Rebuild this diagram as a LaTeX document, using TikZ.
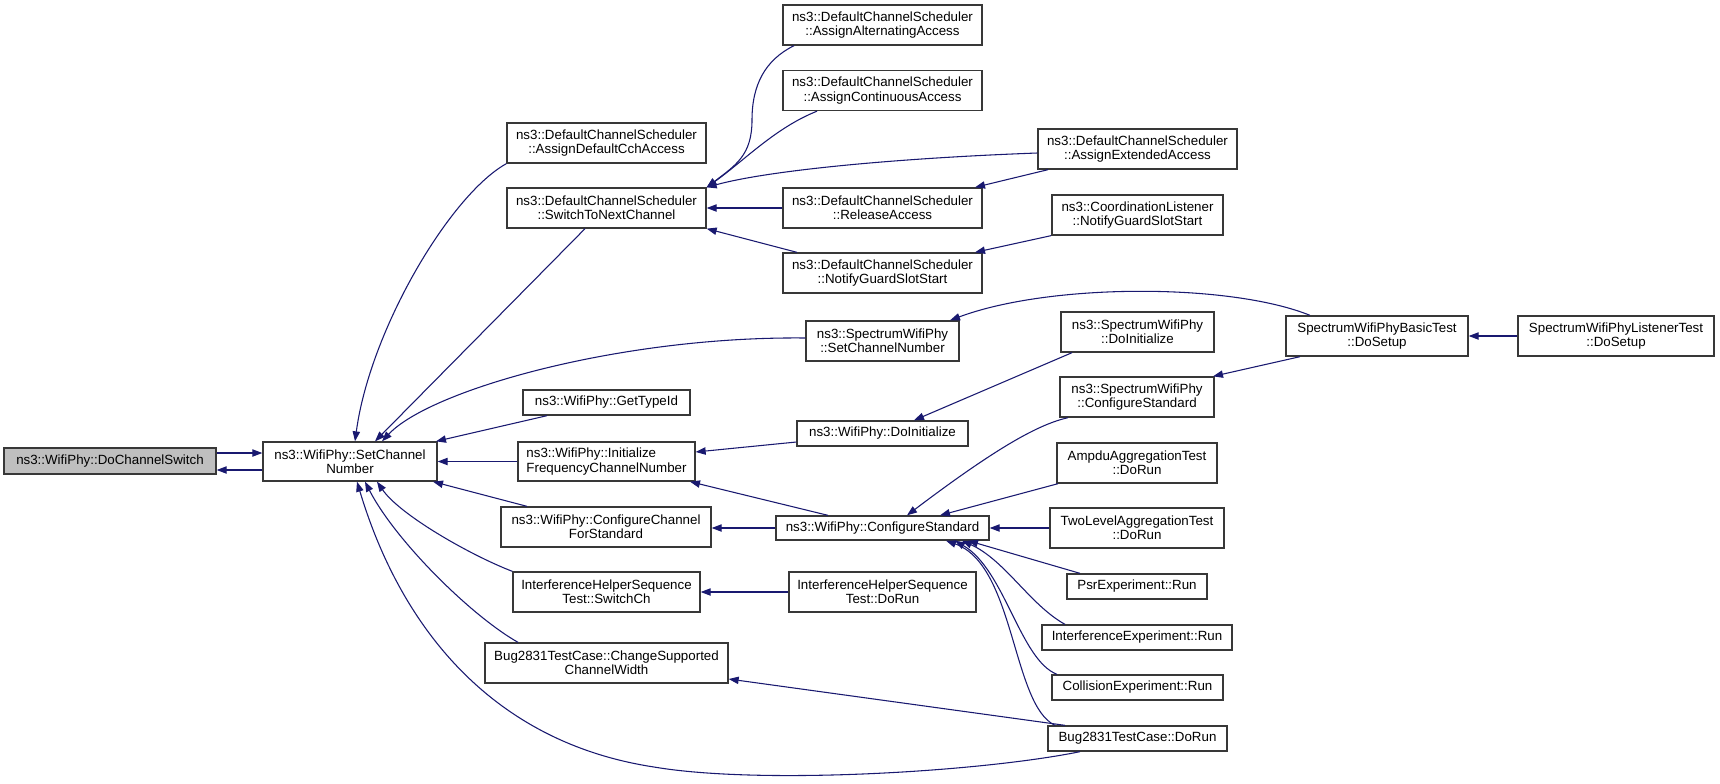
\documentclass[tikz,border=0pt]{standalone}
\usepackage{fontspec}
\setmainfont{Liberation Sans}
\usetikzlibrary{arrows.meta}
\definecolor{edgec}{HTML}{191970}
\definecolor{boxc}{HTML}{383838}
\definecolor{hl}{HTML}{BFBFBF}
\begin{document}
\begin{tikzpicture}[x=0.75pt,y=-0.75pt,
  box/.style={draw=boxc, line width=1pt, fill=white, inner sep=0pt, align=center, font=\fontsize{10}{10.6}\selectfont},
  sz/.style 2 args={minimum width=#1*0.75pt, minimum height=#2*0.75pt},
  edge/.style={draw=edgec, line width=0.8pt, -{Triangle[length=7.5pt,width=5.5pt]}}]
\fill[white] (0,0) rectangle (1720,783);
\useasboundingbox (0,0) rectangle (1720,783);
% nodes
\node[box,sz={212}{26},fill=hl] (dcs) at (110,461) {ns3::WifiPhy::DoChannelSwitch};
\node[box,sz={174}{39}] (scn) at (350,461.5) {ns3::WifiPhy::SetChannel\\Number};
\node[box,sz={199}{40}] (adca) at (606.5,143) {ns3::DefaultChannelScheduler\\::AssignDefaultCchAccess};
\node[box,sz={199}{40}] (stnc) at (606.5,208) {ns3::DefaultChannelScheduler\\::SwitchToNextChannel};
\node[box,sz={199}{40}] (aaa) at (882.5,25) {ns3::DefaultChannelScheduler\\::AssignAlternatingAccess};
\node[box,sz={199}{40}] (aca) at (882.5,90.5) {ns3::DefaultChannelScheduler\\::AssignContinuousAccess};
\node[box,sz={199}{40}] (ra) at (882.5,208) {ns3::DefaultChannelScheduler\\::ReleaseAccess};
\node[box,sz={199}{40}] (ngss) at (882.5,273) {ns3::DefaultChannelScheduler\\::NotifyGuardSlotStart};
\node[box,sz={199}{40}] (aea) at (1137.5,149) {ns3::DefaultChannelScheduler\\::AssignExtendedAccess};
\node[box,sz={171}{40}] (clngss) at (1137.5,215) {ns3::CoordinationListener\\::NotifyGuardSlotStart};
\node[box,sz={153}{40}] (sdi) at (1137.5,332) {ns3::SpectrumWifiPhy\\::DoInitialize};
\node[box,sz={182}{40}] (bts) at (1377,336) {SpectrumWifiPhyBasicTest\\::DoSetup};
\node[box,sz={196}{40}] (lts) at (1616,336) {SpectrumWifiPhyListenerTest\\::DoSetup};
\node[box,sz={153}{40}] (sscn) at (882.5,341) {ns3::SpectrumWifiPhy\\::SetChannelNumber};
\node[box,sz={167}{25}] (gti) at (606.5,402.5) {ns3::WifiPhy::GetTypeId};
\node[box,sz={177}{39},align=left] (ifcn) at (606.5,461.5) {ns3::WifiPhy::Initialize\\FrequencyChannelNumber};
\node[box,sz={171}{25}] (wdi) at (882.5,433.5) {ns3::WifiPhy::DoInitialize};
\node[box,sz={210}{40}] (ccfs) at (606,527) {ns3::WifiPhy::ConfigureChannel\\ForStandard};
\node[box,sz={213}{24}] (wcs) at (882.5,528) {ns3::WifiPhy::ConfigureStandard};
\node[box,sz={154}{40}] (scs) at (1137,397) {ns3::SpectrumWifiPhy\\::ConfigureStandard};
\node[box,sz={160}{40}] (aat) at (1137,463) {AmpduAggregationTest\\::DoRun};
\node[box,sz={174}{40}] (tlat) at (1137,528) {TwoLevelAggregationTest\\::DoRun};
\node[box,sz={140}{25}] (psr) at (1137,586.5) {PsrExperiment::Run};
\node[box,sz={190}{25}] (ie) at (1137,637.5) {InterferenceExperiment::Run};
\node[box,sz={171}{25}] (ce) at (1137.5,687.5) {CollisionExperiment::Run};
\node[box,sz={179}{25}] (bdr) at (1137.5,738.5) {Bug2831TestCase::DoRun};
\node[box,sz={187}{40}] (ihsw) at (606.5,592) {InterferenceHelperSequence\\Test::SwitchCh};
\node[box,sz={187}{40}] (ihdr) at (882.5,592) {InterferenceHelperSequence\\Test::DoRun};
\node[box,sz={243}{40}] (bcscw) at (606.5,663) {Bug2831TestCase::ChangeSupported\\ChannelWidth};
% edges
\draw[edge] (dcs.east |- 0,453) -- (scn.west |- 0,453);
\draw[edge] (scn.west |- 0,470) -- (dcs.east |- 0,470);
\draw[edge] (adca.south west) .. controls (450,195) and (370,330) .. (scn.north -| 355,0);
\draw[edge] (stnc.south -| 585,0) -- (scn.north -| 375,0);
\draw[edge] (sscn.west |- 0,338) .. controls (620,336) and (430,390) .. (scn.north -| 382,0);
\draw[edge] (gti.south -| 547,0) -- (scn.north -| 436,0);
\draw[edge] (ifcn.west) -- (scn.east);
\draw[edge] (ccfs.north -| 527,0) -- (scn.south -| 433,0);
\draw[edge] (ihsw.north west) .. controls (470,555) and (400,515) .. (scn.south -| 377,0);
\draw[edge] (bcscw.north -| 518,0) .. controls (470,615) and (395,540) .. (scn.south -| 365,0);
\draw[edge] (bdr.south -| 1080,0) .. controls (980,772) and (760,785) .. (654,767) .. controls (490,742) and (400,625) .. (scn.south -| 357,0);
\draw[edge] (aaa.south -| 794,0) .. controls (765,60) and (752,85) .. (752,120) .. controls (752,155) and (736,165) .. (stnc.north east);
\draw[edge] (aca.south -| 817,0) .. controls (775,128) and (745,160) .. (stnc.north east);
\draw[edge] (aea.west |- 0,153) .. controls (900,158) and (770,170) .. (stnc.north east);
\draw[edge] (ra.west) -- (stnc.east);
\draw[edge] (ngss.north -| 797,0) -- (stnc.south east);
\draw[edge] (aea.south -| 1048,0) -- (ra.north -| 975,0);
\draw[edge] (clngss.south -| 1051,0) -- (ngss.north -| 975,0);
\draw[edge] (bts.north -| 1310,0) .. controls (1230,283) and (1050,283) .. (sscn.north -| 950,0);
\draw[edge] (lts.west) -- (bts.east);
\draw[edge] (bts.south -| 1300,0) -- (scs.north -| 1213,0);
\draw[edge] (wdi.west |- 0,442) -- (ifcn.east |- 0,452);
\draw[edge] (wcs.north -| 828,0) -- (ifcn.south -| 690,0);
\draw[edge] (sdi.south -| 1072,0) -- (wdi.north -| 914,0);
\draw[edge] (wcs.west) -- (ccfs.east |- wcs.west);
\draw[edge] (ihdr.west) -- (ihsw.east);
\draw[edge] (bdr.north -| 1065,0) -- (bcscw.east |- 0,679);
\draw[edge] (scs.south -| 1068,0) .. controls (1040,424) and (1000,445) .. (wcs.north -| 907,0);
\draw[edge] (aat.south -| 1058,0) -- (wcs.north -| 940,0);
\draw[edge] (tlat.west) -- (wcs.east |- tlat.west);
\draw[edge] (psr.north -| 1080,0) -- (wcs.south -| 968,0);
\draw[edge] (ie.north -| 1065,0) .. controls (1030,605) and (1005,560) .. (wcs.south -| 962,0);
\draw[edge] (ce.north -| 1057,0) .. controls (1020,660) and (1005,570) .. (wcs.south -| 955,0);
\draw[edge] (bdr.north -| 1055,0) .. controls (1012,705) and (1015,565) .. (wcs.south -| 946,0);
\end{tikzpicture}
\end{document}
